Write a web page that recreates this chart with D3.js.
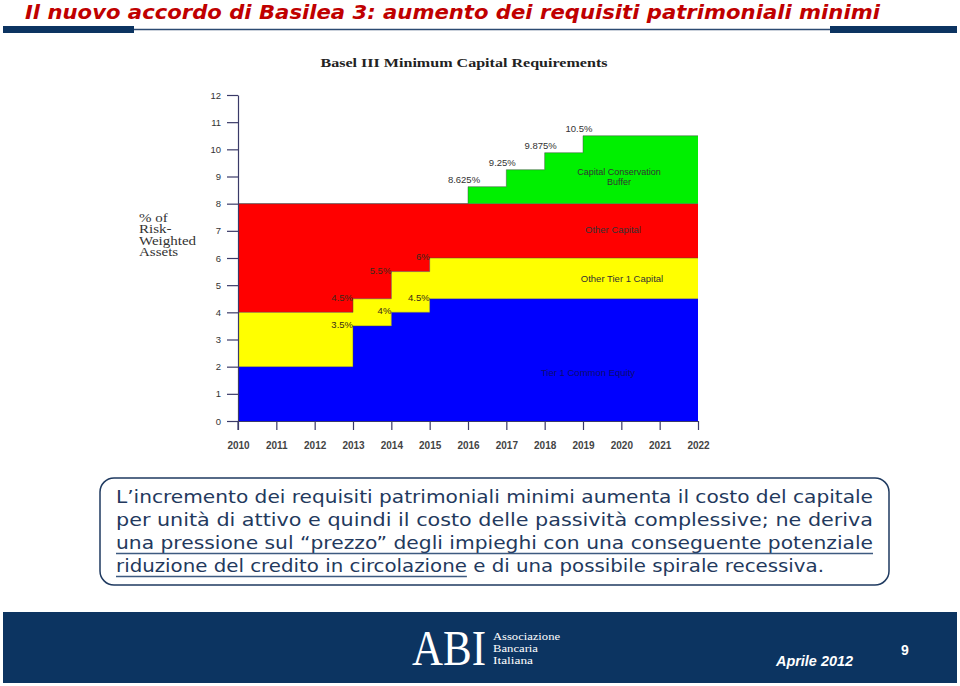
<!DOCTYPE html>
<html>
<head>
<meta charset="utf-8">
<script src="https://cdn.jsdelivr.net/npm/d3@7"></script>
<style>
  html, body { margin: 0; padding: 0; background: #fff; }
  svg { display: block; }
</style>
</head>
<body>
<script>
var width = 960, height = 686;

// data
var stepYears          = [2010, 2013, 2014, 2015, 2016, 2017, 2018, 2019];
var commonEquity       = [2, 3.5, 4, 4.5, 4.5, 4.5, 4.5, 4.5];
var tier1Capital       = [4, 4.5, 5.5, 6, 6, 6, 6, 6];
var totalCapital       = [8, 8, 8, 8, 8, 8, 8, 8];
var conservationBuffer = [8, 8, 8, 8, 8.625, 9.25, 9.875, 10.5];
var yearTicks  = d3.range(2010, 2023);
var yTicks     = d3.range(0, 13);
var lowLabels  = [ {year: 2013, value: 3.5, text: "3.5%"}, {year: 2013, value: 4.5, text: "4.5%"},
                   {year: 2014, value: 4, text: "4%"},     {year: 2014, value: 5.5, text: "5.5%"},
                   {year: 2015, value: 4.5, text: "4.5%"}, {year: 2015, value: 6, text: "6%"} ];
var highLabels = [ {year: 2016, value: 8.625, text: "8.625%"}, {year: 2017, value: 9.25, text: "9.25%"},
                   {year: 2018, value: 9.875, text: "9.875%"}, {year: 2019, value: 10.5, text: "10.5%"} ];
var bodyLines = [
  "L\u2019incremento dei requisiti patrimoniali minimi aumenta il costo del capitale",
  "per unit\u00e0 di attivo e quindi il costo delle passivit\u00e0 complessive; ne deriva",
  "una pressione sul \u201cprezzo\u201d degli impieghi con una conseguente potenziale",
  "riduzione del credito in circolazione e di una possibile spirale recessiva."
];
var logoLines = ["Associazione", "Bancaria", "Italiana"];

var navy = "#0c3461";

var svg = d3.select("body").append("svg")
  .attr("width", width).attr("height", height);

/* slide header */
svg.append("text")
  .attr("x", 25).attr("y", 19)
  .attr("textLength", 855).attr("lengthAdjust", "spacingAndGlyphs")
  .style("font-family", "DejaVu Sans").style("font-weight", "bold").style("font-style", "italic")
  .style("font-size", "20px").style("fill", "#c00000")
  .text("Il nuovo accordo di Basilea 3: aumento dei requisiti patrimoniali minimi");
svg.append("line").attr("x1", 134).attr("x2", 830).attr("y1", 29.5).attr("y2", 29.5)
  .attr("stroke", "#2c4a72").attr("stroke-width", 1.5);
svg.append("rect").attr("x", 3).attr("y", 26).attr("width", 131).attr("height", 7).attr("fill", navy);
svg.append("rect").attr("x", 830).attr("y", 26).attr("width", 127).attr("height", 7).attr("fill", navy);

/* chart */
var x = d3.scaleLinear().domain([2010, 2022]).range([238, 698]);
var y = d3.scaleLinear().domain([0, 12]).range([421, 95]);

var rows = stepYears.map(function(yr, i) {
  return {year: yr, ce: commonEquity[i], t1: tier1Capital[i], tot: totalCapital[i], buf: conservationBuffer[i]};
});
var last = rows[rows.length - 1];
rows.push({year: 2022, ce: last.ce, t1: last.t1, tot: last.tot, buf: last.buf});

var layers = [
  {lo: function(d) { return 0; },     hi: function(d) { return d.ce; },  fill: "#0000ff"},
  {lo: function(d) { return d.ce; },  hi: function(d) { return d.t1; },  fill: "#ffff00"},
  {lo: function(d) { return d.t1; },  hi: function(d) { return d.tot; }, fill: "#ff0000"},
  {lo: function(d) { return d.tot; }, hi: function(d) { return d.buf; }, fill: "#00f000"}
];

var chart = svg.append("g");
layers.forEach(function(l) {
  var area = d3.area().curve(d3.curveStepAfter)
    .x(function(d) { return x(d.year); })
    .y0(function(d) { return y(l.lo(d)); })
    .y1(function(d) { return y(l.hi(d)); });
  chart.append("path").datum(rows).attr("d", area).attr("fill", l.fill);
});
layers.forEach(function(l) {
  var line = d3.line().curve(d3.curveStepAfter)
    .x(function(d) { return x(d.year); })
    .y(function(d) { return y(l.hi(d)); });
  chart.append("path").datum(rows).attr("d", line)
    .attr("fill", "none").attr("stroke", "#444").attr("stroke-opacity", 0.6).attr("stroke-width", 0.8);
});

// axes
var axisColor = "#3a3a68";
var yAxis = svg.append("g").attr("transform", "translate(" + x(2010) + ",0)")
  .call(d3.axisLeft(y).tickValues(yTicks).tickSize(11).tickSizeOuter(0).tickPadding(6));
var xAxis = svg.append("g").attr("transform", "translate(0," + y(0) + ")")
  .call(d3.axisBottom(x).tickValues(yearTicks).tickFormat(d3.format("d")).tickSize(9).tickSizeOuter(0).tickPadding(12));
[yAxis, xAxis].forEach(function(a) {
  a.select(".domain").attr("stroke", axisColor).attr("stroke-width", 1.2);
  a.selectAll(".tick line").attr("stroke", axisColor).attr("stroke-width", 1.2);
  a.selectAll(".tick text").style("font-family", "Liberation Sans, Arial").style("font-size", "9.5px")
    .style("fill", "#333");
});
xAxis.selectAll(".tick text").style("font-size", "10px").style("font-weight", "bold").style("fill", "#444");
svg.append("line").attr("x1", x(2010)).attr("x2", x(2010)).attr("y1", y(0)).attr("y2", y(0) + 9)
  .attr("stroke", axisColor).attr("stroke-width", 1.2);

// titles
svg.append("text").attr("x", 464).attr("y", 67).attr("text-anchor", "middle")
  .attr("textLength", 287).attr("lengthAdjust", "spacingAndGlyphs")
  .style("font-family", "Liberation Serif").style("font-weight", "bold").style("font-size", "11.5px")
  .style("fill", "#222").text("Basel III Minimum Capital Requirements");

var yLab = svg.append("g").attr("transform", "translate(139,0) scale(1.25,1)");
["% of", "Risk-", "Weighted", "Assets"].forEach(function(t, i) {
  yLab.append("text").attr("x", 0).attr("y", 222 + i * 11.5)
    .style("font-family", "Liberation Serif").style("font-size", "12px").style("fill", "#333").text(t);
});

// value labels
var lab = function(t) {
  return t.style("font-family", "Liberation Sans, Arial").style("font-size", "9.5px").style("fill", "#333");
};
lowLabels.forEach(function(d) {
  lab(svg.append("text").attr("x", x(d.year)).attr("y", y(d.value) + 2).attr("text-anchor", "end").text(d.text))
    .style("fill", "#3a2a1a");
});
highLabels.forEach(function(d) {
  lab(svg.append("text").attr("x", x(d.year) - 4).attr("y", y(d.value) - 4).attr("text-anchor", "middle").text(d.text));
});

// layer names
lab(svg.append("text").attr("x", 619).attr("y", 175).attr("text-anchor", "middle").text("Capital Conservation"))
  .style("font-size", "9px");
lab(svg.append("text").attr("x", 619).attr("y", 185).attr("text-anchor", "middle").text("Buffer"))
  .style("font-size", "9px");
lab(svg.append("text").attr("x", 613).attr("y", 233).attr("text-anchor", "middle").text("Other Capital"));
lab(svg.append("text").attr("x", 622).attr("y", 282).attr("text-anchor", "middle").text("Other Tier 1 Capital"));
lab(svg.append("text").attr("x", 588).attr("y", 376).attr("text-anchor", "middle").text("Tier 1 Common Equity"))
  .style("fill", "#0c0c70");

/* text box */
svg.append("rect").attr("x", 100).attr("y", 478).attr("width", 789).attr("height", 107).attr("rx", 14)
  .attr("fill", "#fff").attr("stroke", "#1f3a60").attr("stroke-width", 1.5);
var lineWidths = [757, 757, 757, 708];
var textNodes = bodyLines.map(function(t, i) {
  return svg.append("text").attr("x", 116).attr("y", 503 + i * 23)
    .attr("textLength", lineWidths[i]).attr("lengthAdjust", "spacingAndGlyphs")
    .style("font-family", "DejaVu Sans").style("font-size", "17px").style("fill", "#23395d").text(t);
});
// underline: whole line 3, first part of line 4
var ul3 = textNodes[2].node();
var ul4 = textNodes[3].node();
var w3 = ul3.getComputedTextLength();
var w4 = ul4.getSubStringLength(0, "riduzione del credito in circolazione".length);
svg.append("line").attr("x1", 116).attr("x2", 116 + w3).attr("y1", 553.5).attr("y2", 553.5)
  .attr("stroke", "#3d5a80").attr("stroke-width", 1.3);
svg.append("line").attr("x1", 116).attr("x2", 116 + w4).attr("y1", 576.5).attr("y2", 576.5)
  .attr("stroke", "#3d5a80").attr("stroke-width", 1.3);

/* footer */
svg.append("rect").attr("x", 3).attr("y", 612).attr("width", 954).attr("height", 71).attr("fill", navy);
svg.append("text").attr("transform", "translate(412,665) scale(1,1.18)")
  .style("font-family", "Liberation Serif").style("font-size", "43px").style("fill", "#fff").text("ABI");
var logoWidths = [67, 45, 40];
logoLines.forEach(function(t, i) {
  svg.append("text").attr("x", 493).attr("y", 640 + i * 12)
    .attr("textLength", logoWidths[i]).attr("lengthAdjust", "spacingAndGlyphs")
    .style("font-family", "Liberation Serif").style("font-size", "10px").style("fill", "#fff").text(t);
});
svg.append("text").attr("x", 776).attr("y", 666).attr("textLength", 77).attr("lengthAdjust", "spacingAndGlyphs")
  .style("font-family", "Liberation Sans").style("font-weight", "bold").style("font-style", "italic")
  .style("font-size", "14px").style("fill", "#fff").text("Aprile 2012");
svg.append("text").attr("x", 905).attr("y", 655).attr("text-anchor", "middle")
  .style("font-family", "Liberation Sans").style("font-weight", "bold")
  .style("font-size", "14px").style("fill", "#fff").text("9");
</script>
</body>
</html>
